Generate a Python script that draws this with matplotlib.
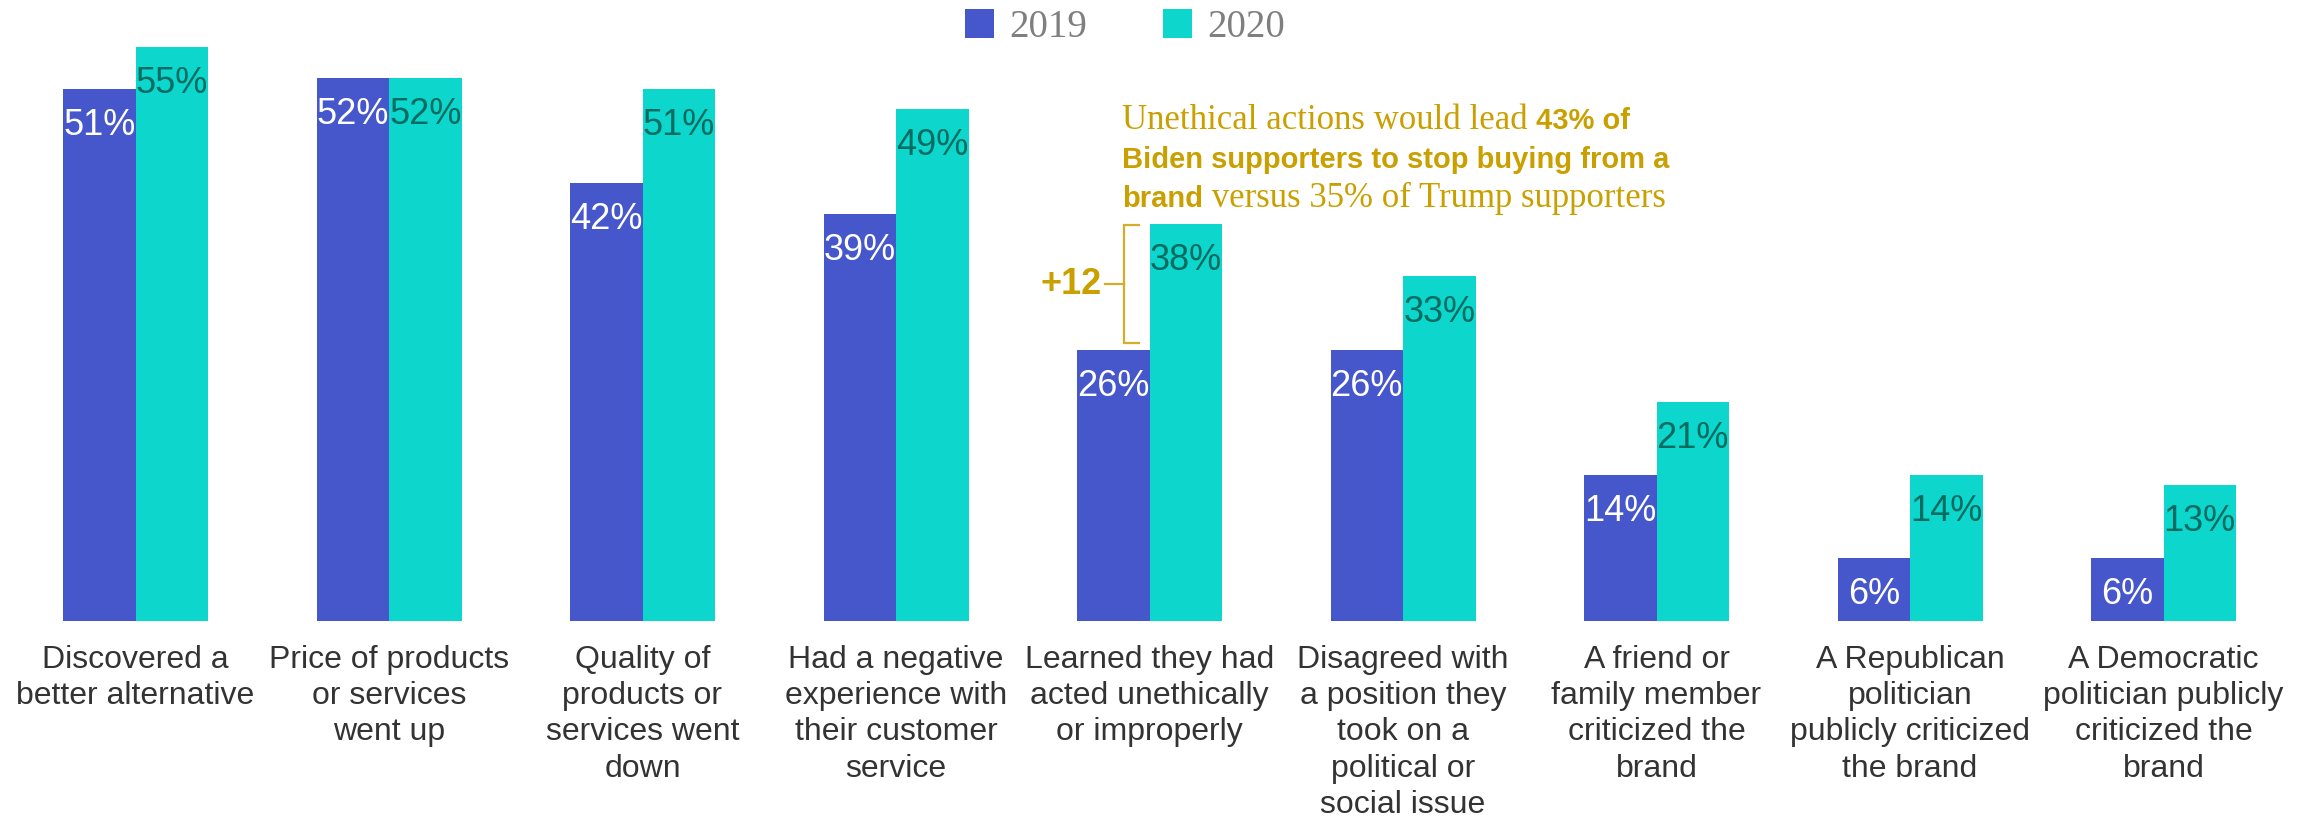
import matplotlib
matplotlib.use('Agg')
import matplotlib.pyplot as plt
import numpy as np

categories = [
    "Discovered a\nbetter alternative",
    "Price of products\nor services\nwent up",
    "Quality of\nproducts or\nservices went\ndown",
    "Had a negative\nexperience with\ntheir customer\nservice",
    "Learned they had\nacted unethically\nor improperly",
    "Disagreed with\na position they\ntook on a\npolitical or\nsocial issue",
    "A friend or\nfamily member\ncriticized the\nbrand",
    "A Republican\npolitician\npublicly criticized\nthe brand",
    "A Democratic\npolitician publicly\ncriticized the\nbrand",
]
series_names = ["2019", "2020"]
v2019 = [51, 52, 42, 39, 26, 26, 14, 6, 6]
v2020 = [55, 52, 51, 49, 38, 33, 21, 14, 13]
highlight_idx = 4
note_lines = [
    [("Unethical actions would lead ", "serif"), ("43% of", "bold")],
    [("Biden supporters to stop buying from a", "bold")],
    [("brand", "bold"), (" versus 35% of Trump supporters", "serif")],
]

C19 = '#4656CB'
C20 = '#0DD6CC'
TEAL_TXT = '#006B60'
GOLD = '#C9A000'
BRACKET = '#D4AE2A'
LABEL = '#333333'
LEG = '#7F7F7F'

W, H = 2310, 819
fig = plt.figure(figsize=(W / 100, H / 100), dpi=100)
base_px = 621
ax = fig.add_axes([0, (H - base_px) / H, 1, base_px / H])
px_per_unit = 10.44
ax.set_ylim(0, base_px / px_per_unit)
grp = 253.5
c0 = 135.5
ax.set_xlim(-c0 / grp, (W - c0) / grp)
ax.axis('off')

bw = 72.5 / grp
x = np.arange(len(categories))
b1 = ax.bar(x - bw / 2, v2019, bw, color=C19, label=series_names[0])
b2 = ax.bar(x + bw / 2, v2020, bw, color=C20, label=series_names[1])

SANS = 'Liberation Sans'
SERIF = 'Liberation Serif'

for xi, v in zip(x, v2019):
    ax.annotate(f'{v}%', (xi - bw / 2, v), xytext=(0, -46), textcoords='offset pixels',
                ha='center', va='baseline', fontsize=26, color='white', family=SANS)
for xi, v in zip(x, v2020):
    ax.annotate(f'{v}%', (xi + bw / 2, v), xytext=(0, -46), textcoords='offset pixels',
                ha='center', va='baseline', fontsize=26, color=TEAL_TXT, family=SANS)

line_gap = 36.2
for xi, lab in zip(x, categories):
    for k, ln in enumerate(lab.split('\n')):
        ax.annotate(ln, (xi, 0), xytext=(0, -47 - k * line_gap), textcoords='offset pixels',
                    ha='center', va='baseline', fontsize=23, color=LABEL, family=SANS)

# legend
fig.legend(handles=[b1, b2], labels=series_names, loc='center',
           bbox_to_anchor=(1125 / W, 1 - 27.5 / H), ncol=2, frameon=False,
           prop={'family': SERIF, 'size': 28}, handlelength=0.75, handleheight=0.75,
           handletextpad=0.39, columnspacing=1.93, labelcolor=LEG, borderpad=0)

# bracket annotation
i = highlight_idx
bx = i - 0.101
ytop = v2020[i] - 0.1
ybot = v2019[i] + 0.6
ax.plot([i - 0.041, bx, bx, i - 0.041], [ybot, ybot, ytop, ytop], color=BRACKET, lw=1.6,
        solid_joinstyle='miter', clip_on=False)
ymid = (ytop + ybot) / 2
ax.plot([i - 0.174, bx], [ymid, ymid], color=BRACKET, lw=1.6, clip_on=False)
ax.text(i - 0.19, ymid, f'+{v2020[i] - v2019[i]}', ha='right', va='center',
        fontsize=26, color=GOLD, family=SANS, fontweight='bold')

# rich text note
renderer = fig.canvas.get_renderer()
styles = {
    'serif': dict(family=SERIF, fontsize=25),
    'bold': dict(family=SANS, fontsize=21, fontweight='bold'),
}


def advance(txt, st):
    t1 = fig.text(0, 0, '|' + txt + '|', **styles[st])
    t2 = fig.text(0, 0, '||', **styles[st])
    w = t1.get_window_extent(renderer).width - t2.get_window_extent(renderer).width
    t1.remove()
    t2.remove()
    return w


x0 = c0 + (i - 0.11) * grp
baselines = [129, 168, 207]
for pieces, yb in zip(note_lines, baselines):
    xc = x0
    for txt, st in pieces:
        fig.text(xc / W, 1 - yb / H, txt, ha='left', va='baseline', color=GOLD, **styles[st])
        xc += advance(txt, st)

fig.savefig('out.png', dpi=100, facecolor='white')
